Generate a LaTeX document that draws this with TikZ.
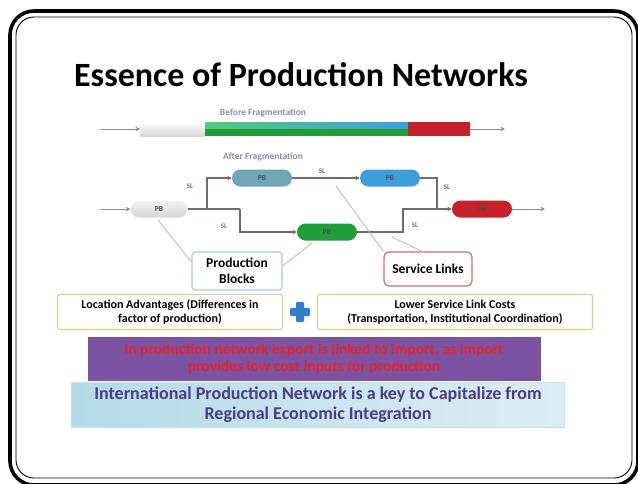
\documentclass[tikz,border=0pt]{standalone}
\usepackage{fontspec}
\setmainfont{Carlito}
\usetikzlibrary{shapes.misc,arrows.meta}
\definecolor{linkc}{HTML}{7A6868}
\definecolor{leadc}{HTML}{CFA3A3}
\definecolor{pbgray}{HTML}{D6D6D6}
\definecolor{pbteal}{HTML}{6FA6B8}
\definecolor{pbblue}{HTML}{3C9FDC}
\definecolor{pbgreen}{HTML}{1F9E3A}
\definecolor{pbred}{HTML}{C42228}
\definecolor{boxblue}{HTML}{9CCFE0}
\definecolor{boxred}{HTML}{C8706C}
\definecolor{boxyel}{HTML}{D9D08E}
\definecolor{purp}{HTML}{7C52A3}
\definecolor{redtxt}{HTML}{E5252B}
\definecolor{navy}{HTML}{4B3A8E}
\definecolor{plusc}{HTML}{2F7FC8}
\definecolor{phasec}{HTML}{8A8FB0}
\begin{document}
\begin{tikzpicture}[x=1pt,y=-1pt,
  pbnode/.style={rounded rectangle, minimum width=60pt, minimum height=17pt,
    inner sep=0pt, font=\fontsize{7.5}{7.5}\selectfont\bfseries, text=black!70},
  link/.style={draw=linkc, line width=1.6pt},
  tip/.style={-{Stealth[length=4.5pt,width=4.5pt]}},
  sllabel/.style={font=\fontsize{7}{7}\selectfont\bfseries, text=black!55},
  leader/.style={draw=leadc, line width=0.7pt},
  infobox/.style={draw, fill=white, rounded corners=3pt, line width=1.2pt,
    align=center, inner sep=0pt, font=\fontsize{12}{13.5}\selectfont\bfseries},
  callout/.style={infobox, font=\fontsize{13.5}{16.5}\selectfont\bfseries},
  phase/.style={font=\fontsize{9.5}{9.5}\selectfont\bfseries, text=phasec}
]
\useasboundingbox (0,0) rectangle (638,483);
\fill[white] (0,0) rectangle (638,483);

% slide frame
\draw[line width=3.6pt, rounded corners=24pt] (10,11) rectangle (638,485);
\draw[line width=0.9pt, rounded corners=18pt] (16,17) rectangle (632,478);

% title
\node (title) at (301,75) {\fontsize{34}{34}\selectfont\bfseries Essence of Production Networks};

% before fragmentation bar
\node[phase] (before) at (263,113) {Before Fragmentation};
\shade[top color=white, bottom color=pbgray] (140,122) rectangle (205,136);
\shade[left color=green!45!teal!70, right color=pbblue] (205,122) rectangle (408,129);
\fill[pbgreen] (205,129) rectangle (408,136);
\fill[pbred] (408,122) rectangle (470,136);
\coordinate (bin) at (100,129);
\coordinate (bleft) at (140,129);
\coordinate (bright) at (470,129);
\coordinate (bout) at (505,129);
\draw[draw=black!45, line width=0.8pt, tip] (bin) -- (bleft);
\draw[draw=black!45, line width=0.8pt, tip] (bright) -- (bout);

% after fragmentation network
\node[phase] (after) at (263,157) {After Fragmentation};
\node[pbnode, minimum width=57pt, top color=white!70!pbgray, bottom color=pbgray] (pa) at (159,209) {PB};
\node[pbnode, fill=pbteal] (pt) at (262,178) {PB};
\node[pbnode, fill=pbblue] (pu) at (390,178) {PB};
\node[pbnode, fill=pbgreen] (pg) at (327,232) {PB};
\node[pbnode, fill=pbred] (pr) at (482,209) {PB};

\coordinate (nin) at (100,209);
\coordinate (nout) at (545,209);
\coordinate (j1) at (207,209);
\coordinate (j2) at (240,209);
\coordinate (j3) at (437,209);
\coordinate (j4) at (403,209);

\draw[draw=black!45, line width=0.8pt, tip] (nin) -- (pa.west);
\draw[link] (pa.east) -- (j1);
\draw[link, tip] (j1) |- (pt.west);
\draw[link] (j1) -- (j2);
\draw[link, tip] (j2) |- (pg.west);
\draw[link, tip] (pt.east) -- (pu.west);
\draw[link] (pu.east) -| (j3);
\draw[link] (pg.east) -| (j4) -- (j3);
\draw[link, tip] (j3) -- (pr.west);
\draw[draw=black!45, line width=0.8pt, tip] (pr.east) -- (nout);

\node[sllabel] (s1) at (190,186) {SL};
\node[sllabel] (s2) at (224,226) {SL};
\node[sllabel] (s3) at (322,171) {SL};
\node[sllabel] (s4) at (447,187) {SL};
\node[sllabel] (s5) at (415,225) {SL};

% callouts
\node[callout, draw=boxblue, minimum width=90pt, minimum height=38pt] (blocks) at (237,271) {Production\\Blocks};
\node[callout, draw=boxred, rounded corners=5pt, minimum width=88pt, minimum height=34pt] (links) at (428,269) {Service Links};

\coordinate (lb1) at (158,220);
\coordinate (lb2) at (312,243);
\coordinate (ls1) at (336,186);
\coordinate (ls2) at (392,237);
\draw[leader] (lb1) -- (blocks.west |- 0,262);
\draw[leader] (lb2) -- (blocks.east |- 0,266);
\draw[leader] (ls1) -- (links.north west);
\draw[leader] (ls2) -- ([xshift=-6pt]links.north);

% advantages
\node[infobox, draw=boxyel, rounded corners=2pt, minimum width=225pt, minimum height=35pt] (loc) at (170,312)
  {Location Advantages (Differences in\\factor of production)};
\node[infobox, draw=boxyel, rounded corners=2pt, minimum width=275pt, minimum height=35pt] (cost) at (455,312)
  {Lower Service Link Costs\\(Transportation, Institutional Coordination)};
\fill[plusc, rounded corners=1.2pt] (296,302) rectangle (304,322);
\fill[plusc, rounded corners=1.2pt] (290,308) rectangle (310,316);

% conclusions
\node[fill=purp, minimum width=453pt, minimum height=44pt, inner sep=0pt, align=center,
  text=redtxt, font=\fontsize{15.5}{17}\selectfont\bfseries] (trade) at (314,359)
  {In production network export is linked to import, as import\\provides low cost inputs for production};
\node[left color=boxblue!75, right color=boxblue!35, draw=boxblue!60, minimum width=493pt, minimum height=45pt,
  inner sep=0pt, align=center, text=navy, font=\fontsize{18}{20}\selectfont\bfseries] (ipn) at (318,405)
  {International Production Network is a key to Capitalize from\\Regional Economic Integration};
\end{tikzpicture}
\end{document}
